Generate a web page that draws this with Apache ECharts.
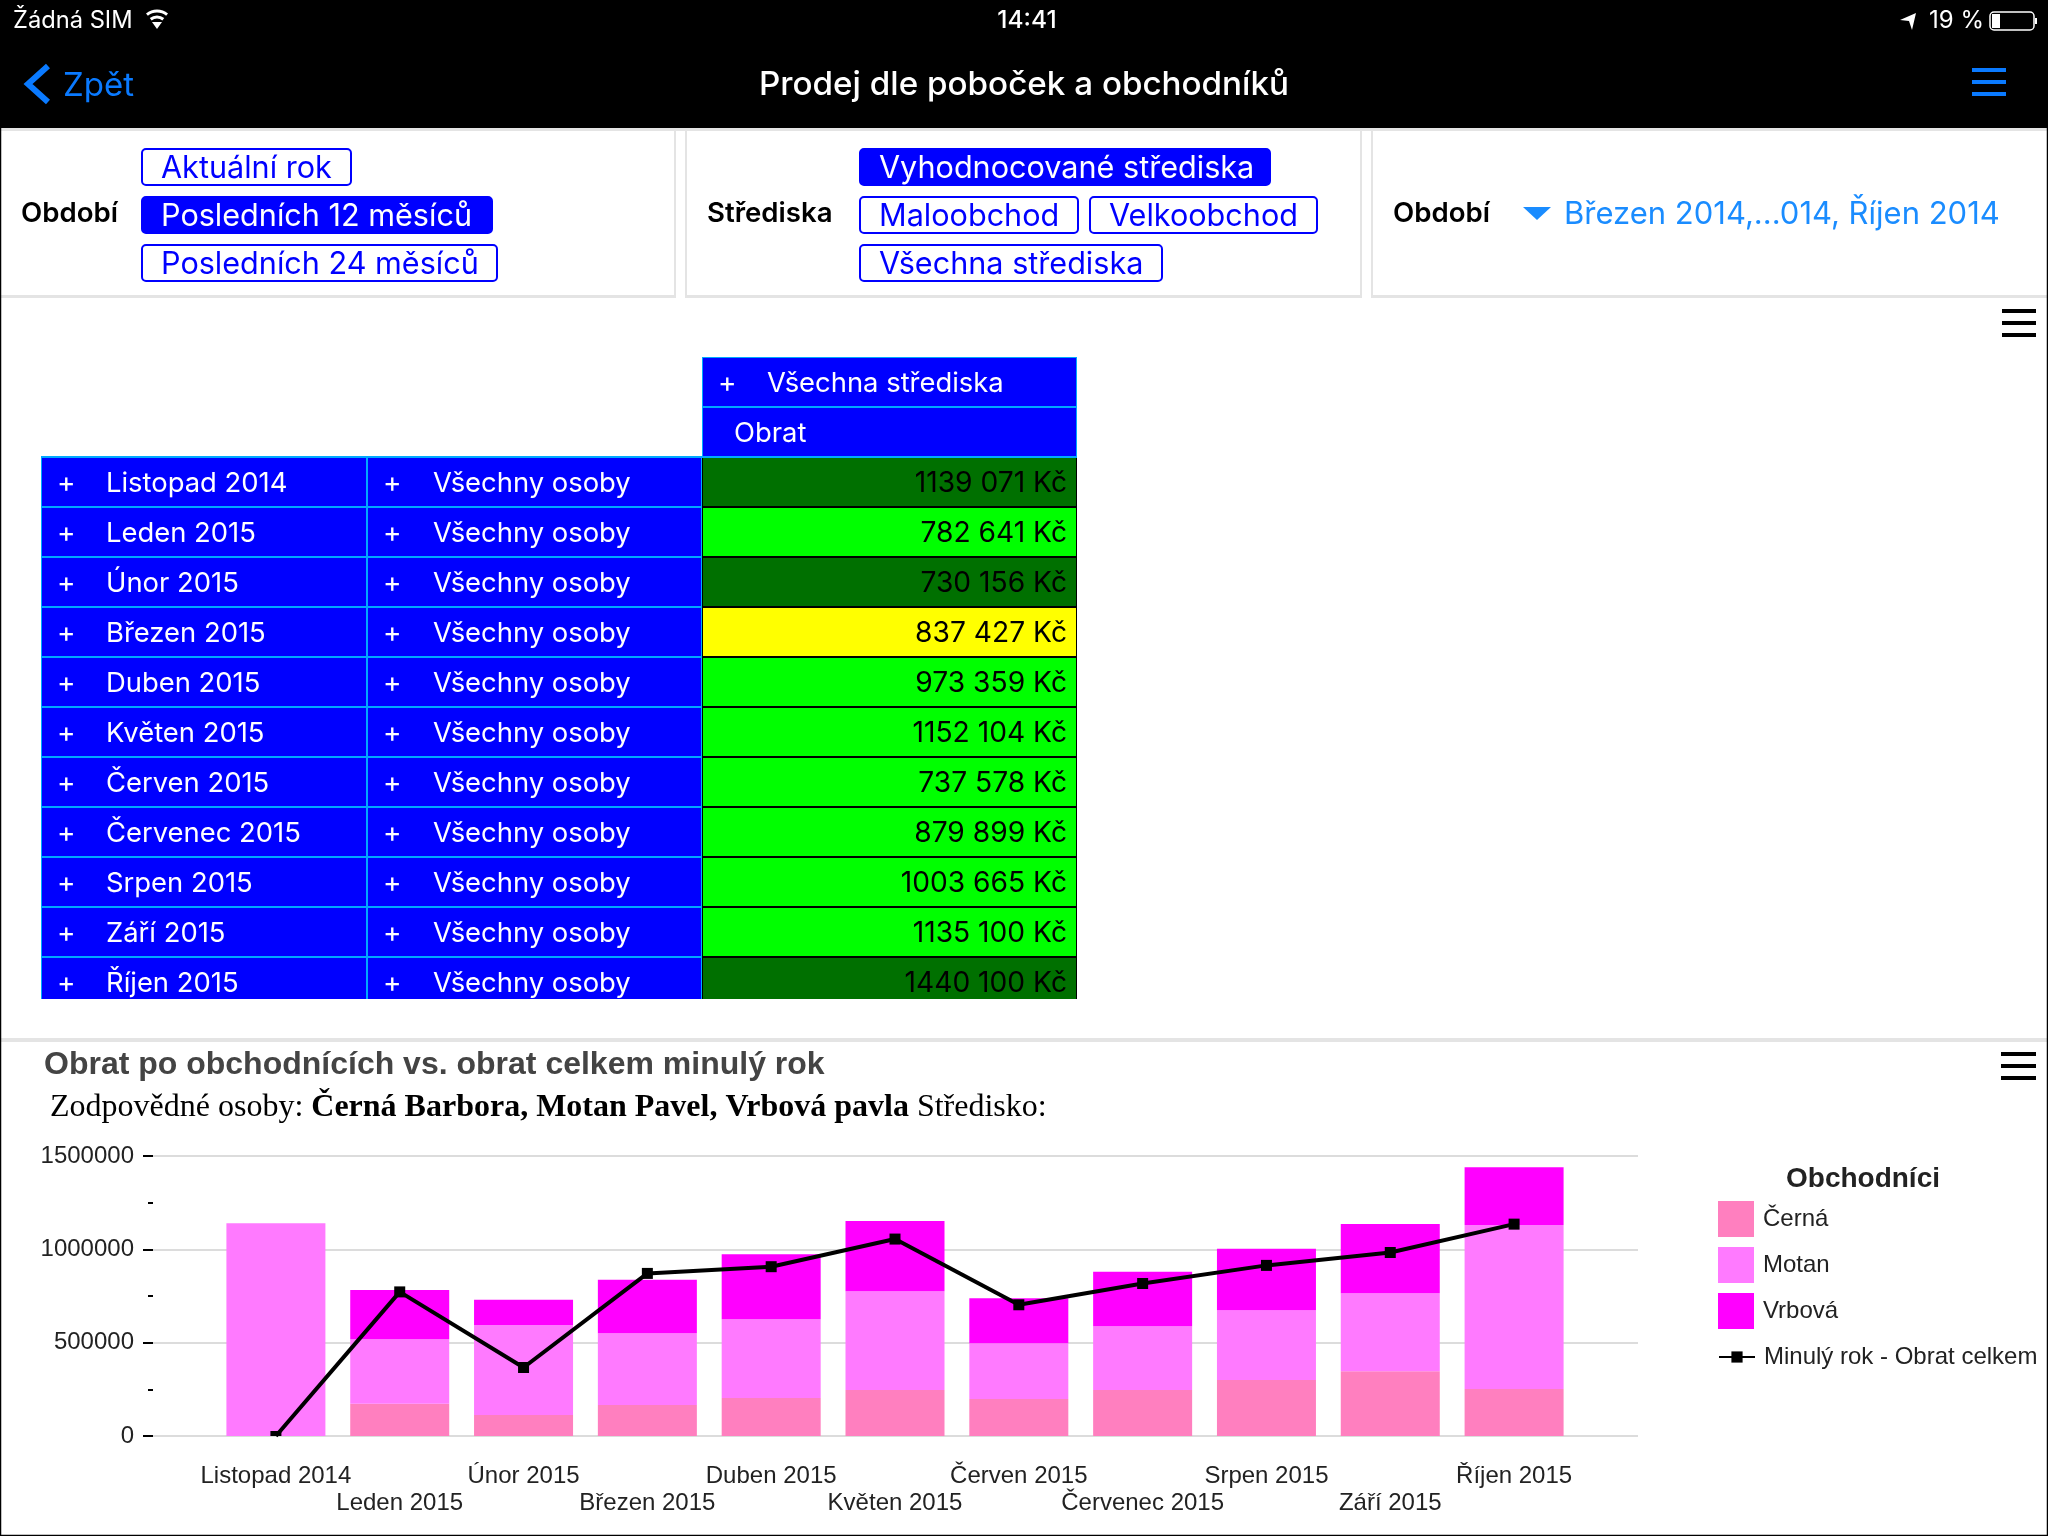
<!DOCTYPE html>
<html><head><meta charset="utf-8">
<style>html,body{margin:0;padding:0;background:#fff}#c{width:2048px;height:1536px}</style>
<script src="https://cdn.jsdelivr.net/npm/echarts@6/dist/echarts.min.js"></script>
</head><body><div id="c"></div>
<script>
const months = ['Listopad 2014','Leden 2015','Únor 2015','Březen 2015','Duben 2015','Květen 2015','Červen 2015','Červenec 2015','Srpen 2015','Září 2015','Říjen 2015'];
const cerna  = [0,173000,113000,166000,204000,247000,198000,247000,300000,347000,252000];
const motan  = [1139071,345000,481000,385000,422000,529000,299000,341000,374000,418000,878000];
const vrbova = [0,264641,136156,286427,347359,376104,240578,291899,329665,370100,310100];
const minulyRok = [0,772000,367000,871000,907000,1055000,703000,817000,914000,983000,1135000];
const obrat  = [1139071,782641,730156,837427,973359,1152104,737578,879899,1003665,1135100,1440100];
const obratState = ['dark','green','dark','yellow','green','green','green','green','green','green','dark'];
const osoby = 'Všechny osoby';

const UI = 'Inter', SANS = '"Liberation Sans"', SERIF = '"Liberation Serif"';
const BLUE='#0000ff', EDGE='#00a8ff', IOS='#0a7aff', LINK='#1a8cff';
const STATE = {dark:'#007000',green:'#00ff00',yellow:'#ffff00'};

const G=[];
function rect(x,y,w,h,fill,stroke,r){G.push({type:'rect',shape:{x,y,width:w,height:h,r:r||0},style:{fill:fill||'none',stroke:stroke||null,lineWidth:stroke?2:0}});}
function txt(t,x,y,font,fill,align){G.push({type:'text',style:{text:t,x,y,font,fill,textAlign:align||'left',textVerticalAlign:'middle'}});}
// top bar
rect(0,0,2048,128,'#000');
txt('Žádná SIM',13,21,'400 23.7px '+UI,'#fff');
G.push({type:'arc',shape:{cx:157,cy:27,r:16,startAngle:-2.25,endAngle:-0.89},style:{stroke:'#fff',lineWidth:3,fill:null}});
G.push({type:'arc',shape:{cx:157,cy:27,r:10,startAngle:-2.25,endAngle:-0.89},style:{stroke:'#fff',lineWidth:3,fill:null}});
G.push({type:'polygon',shape:{points:[[152,22],[162,22],[157,29]]},style:{fill:'#fff'}});
txt('14:41',1027,21,'500 24.5px '+UI,'#fff','center');
G.push({type:'polygon',shape:{points:[[1916,13],[1912,30],[1909,21],[1900,20]]},style:{fill:'#fff'}});
txt('19 %',1929,21,'400 24px '+UI,'#fff');
rect(1990,12,44,18,null,'#fff',4);G[G.length-1].style.lineWidth=1.5;
rect(1992,14,8,14,'#fff');
rect(2035,18,2,6,'#fff');
G.push({type:'polyline',shape:{points:[[48,66],[28,84],[48,102]]},style:{stroke:IOS,lineWidth:6,fill:null}});
txt('Zpět',63,86,'400 33px '+UI,IOS);
txt('Prodej dle poboček a obchodníků',1024,85,'500 33.2px '+UI,'#fff','center');
[68,80,92].forEach(y=>rect(1972,y,34,4,IOS));
// filter panels
rect(0,128,2048,3,'#e4e4e4');
rect(0,295,2048,3,'#e4e4e4');
rect(674,131,2,164,'#e4e4e4');rect(685,131,2,164,'#e4e4e4');
rect(1360,131,2,164,'#e4e4e4');rect(1371,131,2,164,'#e4e4e4');
rect(676,295,9,3,'#fff');rect(1362,295,9,3,'#fff');
txt('Období',21,214,'600 27.6px '+UI,'#000');
txt('Střediska',707,214,'600 27.6px '+UI,'#000');
txt('Období',1393,214,'600 27.6px '+UI,'#000');
G.push({type:'polygon',shape:{points:[[1523,207],[1551,207],[1537,220]]},style:{fill:LINK}});
txt('Březen 2014,...014, Říjen 2014',1564,214.5,'400 31px '+UI,LINK);
function btn(t,x0,x1,y0,on){rect(x0+1,y0+1,x1-x0-2,36,on?BLUE:'#fff',BLUE,4);txt(t,x0+20,y0+21,'400 30.6px '+UI,on?'#fff':BLUE);}
btn('Aktuální rok',141,352,148,false);
btn('Posledních 12 měsíců',141,493,196,true);
btn('Posledních 24 měsíců',141,498,244,false);
btn('Vyhodnocované střediska',859,1271,148,true);
btn('Maloobchod',859,1079,196,false);
btn('Velkoobchod',1089,1318,196,false);
btn('Všechna střediska',859,1163,244,false);
// section rule + hamburgers
rect(0,1038,2048,4,'#e4e4e4');
[309,321,333].forEach(y=>rect(2002,y,34,4,'#000'));
[1052,1064,1076].forEach(y=>rect(2001,y,35,4,'#000'));
// legend heading
txt('Obchodníci',1863,1179,'700 28px '+SANS,'#222','center');
// frame
G.push({type:'rect',z:100,shape:{x:0.5,y:0.5,width:2047,height:1535},style:{fill:'none',stroke:'#000',lineWidth:1.5}});

const TOP=357, RH=50, TH=642;
function tableGrid(l,w){return {left:l,top:TOP,width:w,height:TH,containLabel:false,show:false};}
function hiddenX(i){return {type:'value',gridIndex:i,min:0,max:1,show:false};}
function hiddenY(i){return {type:'value',gridIndex:i,min:-2,max:-2+TH/RH,inverse:true,show:false};}

function headCell(plus,pad){
  return function(params,api){
    const r=api.value(1), p=api.coord([0,r]), cs=params.coordSys;
    const t=labelSets[params.seriesIndex][params.dataIndex];
    const kids=[{type:'rect',shape:{x:cs.x,y:p[1],width:cs.width,height:RH},style:{fill:BLUE,stroke:EDGE,lineWidth:2}}];
    if(plus) kids.push({type:'text',style:{text:'+',x:cs.x+pad[0],y:p[1]+RH/2+2,font:'400 28px '+UI,fill:'#fff',textAlign:'left',textVerticalAlign:'middle'}});
    kids.push({type:'text',style:{text:t,x:cs.x+(plus?pad[1]:pad[0]),y:p[1]+RH/2+1.5,font:'400 27.4px '+UI,fill:'#fff',textAlign:'left',textVerticalAlign:'middle'}});
    return {type:'group',children:kids};
  };
}
const labelSets={};
function kc(v){const s=String(v);return s.slice(0,-3)+' '+s.slice(-3)+' Kč';}
function valueCell(params,api){
  const r=api.value(1), p=api.coord([0,r]), cs=params.coordSys;
  return {type:'group',children:[
    {type:'rect',shape:{x:cs.x,y:p[1],width:cs.width,height:RH},style:{fill:STATE[obratState[r]],stroke:'#000',lineWidth:2}},
    {type:'text',style:{text:kc(api.value(2)),x:cs.x+cs.width-10,y:p[1]+RH/2+1.5,font:'400 28.2px '+UI,fill:'#000',textAlign:'right',textVerticalAlign:'middle'}}
  ]};
}
const lineData=minulyRok.map((v,i)=>i===0?{value:v,symbolSize:[11,5],symbolOffset:[0,-2.5]}:v);
const legendText={fontFamily:SANS,fontSize:24,color:'#222',padding:[0,0,0,4]};
const option={
  animation:false,
  backgroundColor:'#fff',
  textStyle:{fontFamily:SANS},
  title:[
    {text:'Obrat po obchodnících vs. obrat celkem minulý rok',left:44,top:1046,padding:0,textStyle:{fontFamily:SANS,fontWeight:700,fontSize:32,color:'#444',lineHeight:38}},
    {text:'{a|Zodpovědné osoby: }{b|Černá Barbora, Motan Pavel, Vrbová pavla}{a| Středisko:}',left:50,top:1089,padding:0,
      textStyle:{fontWeight:'normal',rich:{a:{fontFamily:SERIF,fontSize:32,fontWeight:'normal',color:'#000',lineHeight:38},b:{fontFamily:SERIF,fontSize:32,fontWeight:700,color:'#000',lineHeight:38}}}}
  ],
  graphic:{elements:G},
  legend:[
    {data:['Černá','Motan','Vrbová'],icon:'rect',orient:'vertical',left:1718,top:1201,itemWidth:36,itemHeight:36,itemGap:10,padding:0,selectedMode:false,textStyle:legendText},
    {data:['Minulý rok - Obrat celkem'],orient:'vertical',left:1718,top:1345,itemWidth:36,itemHeight:14,padding:0,selectedMode:false,textStyle:legendText}
  ],
  grid:[
    {left:153,top:1156,width:1485,height:280,show:false},
    {left:214,top:1156,width:1362,height:280,show:false},
    tableGrid(41,326),tableGrid(367,335),tableGrid(702,375)
  ],
  xAxis:[
    {type:'category',gridIndex:0,data:months,show:false},
    {type:'category',gridIndex:1,data:months,axisLine:{show:false},axisTick:{show:false},
      axisLabel:{interval:0,margin:27,hideOverlap:false,fontFamily:SANS,fontSize:24,color:'#222',lineHeight:27,formatter:(v,i)=>i%2?'\n'+v:v}},
    hiddenX(2),hiddenX(3),hiddenX(4)
  ],
  yAxis:[
    {type:'value',gridIndex:0,min:0,max:1500000,interval:500000,
      axisLine:{show:false},
      axisTick:{show:true,length:10,lineStyle:{color:'#000',width:2}},
      minorTick:{show:true,splitNumber:2,length:5,lineStyle:{color:'#000',width:2}},
      splitLine:{show:true,lineStyle:{color:'#dcdcdc',width:2}},
      axisLabel:{margin:19,padding:[2,0,0,0],fontFamily:SANS,fontSize:24,color:'#222',formatter:v=>String(v)}},
    {type:'value',gridIndex:1,min:0,max:1500000,show:false},
    hiddenY(2),hiddenY(3),hiddenY(4)
  ],
  series:[
    {name:'Černá',type:'bar',stack:'o',xAxisIndex:1,yAxisIndex:1,barWidth:99,data:cerna,itemStyle:{color:'#ff7fbf'}},
    {name:'Motan',type:'bar',stack:'o',xAxisIndex:1,yAxisIndex:1,barWidth:99,data:motan,itemStyle:{color:'#ff7aff'}},
    {name:'Vrbová',type:'bar',stack:'o',xAxisIndex:1,yAxisIndex:1,barWidth:99,data:vrbova,itemStyle:{color:'#ff00ff'}},
    {name:'Minulý rok - Obrat celkem',type:'line',xAxisIndex:1,yAxisIndex:1,data:lineData,z:5,
      symbol:'rect',symbolSize:11,showSymbol:true,lineStyle:{color:'#000',width:4},itemStyle:{color:'#000'}},
    {type:'custom',xAxisIndex:2,yAxisIndex:2,clip:true,silent:true,renderItem:headCell(true,[16,65]),data:months.map((m,i)=>[0,i])},
    {type:'custom',xAxisIndex:3,yAxisIndex:3,clip:true,silent:true,renderItem:headCell(true,[16,66]),data:months.map((m,i)=>[0,i])},
    {type:'custom',xAxisIndex:4,yAxisIndex:4,clip:true,silent:true,renderItem:valueCell,data:obrat.map((v,i)=>[0,i,v])},
    {type:'custom',xAxisIndex:4,yAxisIndex:4,clip:true,silent:true,renderItem:headCell(true,[16,65]),data:[[0,-2]]},
    {type:'custom',xAxisIndex:4,yAxisIndex:4,clip:true,silent:true,renderItem:headCell(false,[32,32]),data:[[0,-1]]}
  ]
};
labelSets[4]=months; labelSets[5]=months.map(()=>osoby); labelSets[7]=['Všechna střediska']; labelSets[8]=['Obrat'];
const chart=echarts.init(document.getElementById('c'),null,{renderer:'canvas',width:2048,height:1536});
chart.setOption(option);
</script></body></html>
